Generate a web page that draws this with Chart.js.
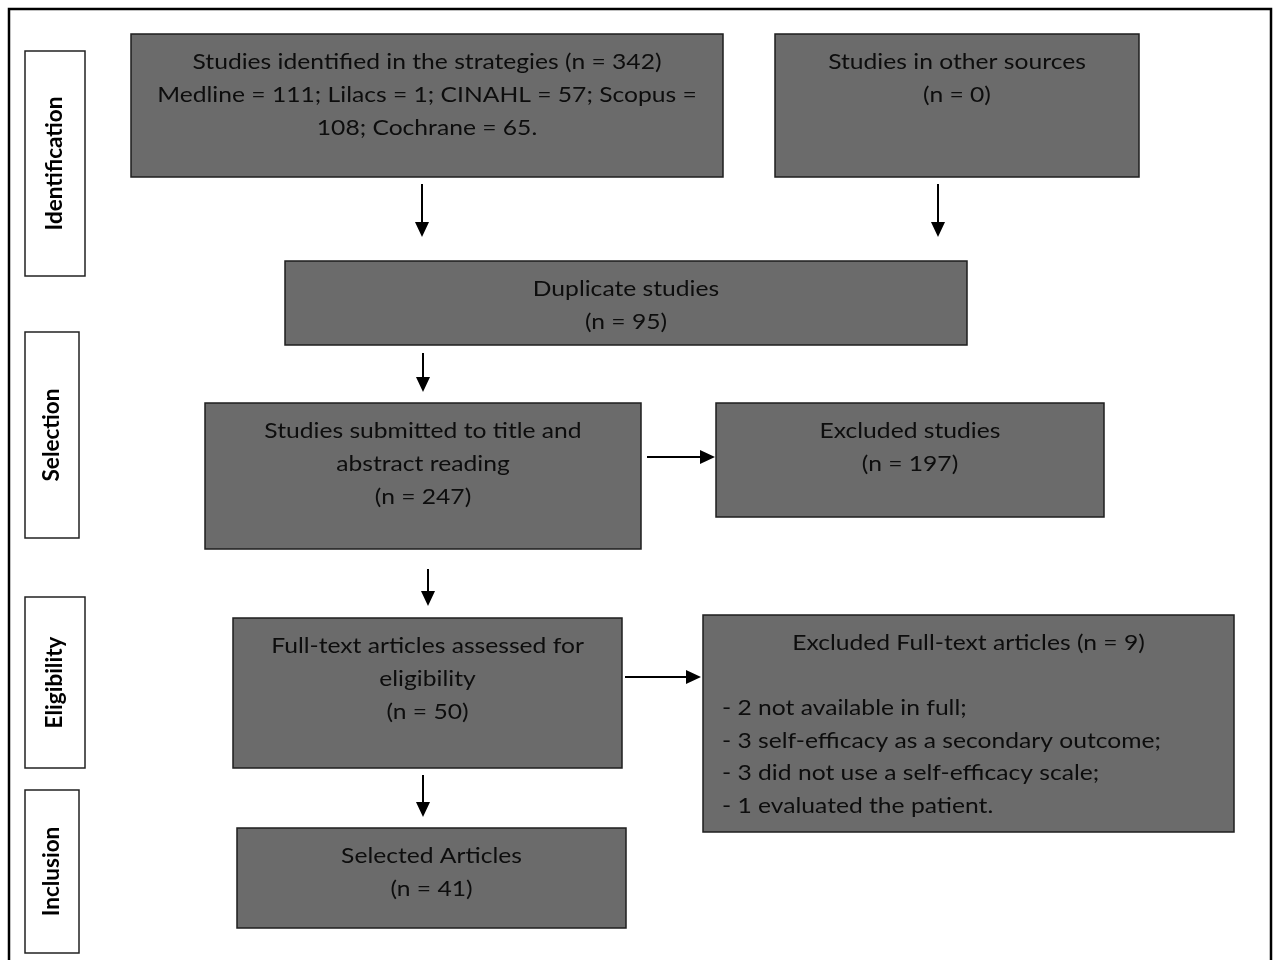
<!DOCTYPE html>
<html>
<head>
<meta charset="utf-8">
<script src="https://cdn.jsdelivr.net/npm/chart.js@4.4.1/dist/chart.umd.min.js"></script>
<style>
    html, body { margin: 0; padding: 0; background: #fff; }
    #wrap { width: 1276px; height: 960px; }
</style>
</head>
<body>
<div id="wrap"><canvas id="flow" width="1276" height="960"></canvas></div>
<script>
// Flow data
const stages = ['Identification', 'Selection', 'Eligibility', 'Inclusion'];
const sources = ['Medline', 'Lilacs', 'CINAHL', 'Scopus', 'Cochrane'];
const sourceCounts = [111, 1, 57, 108, 65];
const boxTitles = [
    'Studies identified in the strategies',
    'Studies in other sources',
    'Duplicate studies',
    'Studies submitted to title and abstract reading',
    'Excluded studies',
    'Full-text articles assessed for eligibility',
    'Excluded Full-text articles',
    'Selected Articles'
];
const boxCounts = [342, 0, 95, 247, 197, 50, 9, 41];
const exclusionCounts = [2, 3, 3, 1];
const exclusionReasons = [
    'not available in full;',
    'self-efficacy as a secondary outcome;',
    'did not use a self-efficacy scale;',
    'evaluated the patient.'
];

// Layout (diagram units = pixels of a 1276 x 960 page)
const stageBoxes = [
    [25, 51, 85, 276],
    [25, 332, 79, 538],
    [25, 597, 85, 768],
    [25, 790, 79, 953]
];
const boxRects = [
    [131, 34, 723, 177],
    [775, 34, 1139, 177],
    [285, 261, 967, 345],
    [205, 403, 641, 549],
    [716, 403, 1104, 517],
    [233, 618, 622, 768],
    [703, 615, 1234, 832],
    [237, 828, 626, 928]
];
const arrows = [
    [422, 184, 422, 237],
    [938, 184, 938, 237],
    [423, 353, 423, 392],
    [647, 457, 715, 457],
    [428, 569, 428, 606],
    [625, 677, 701, 677],
    [423, 775, 423, 817]
];

function boxLines(i) {
    const n = `(n = ${boxCounts[i]})`;
    if (i === 0) {
        const parts = sources.map((s, k) => `${s} = ${sourceCounts[k]}`);
        return [
            `${boxTitles[0]} ${n}`,
            `${parts.slice(0, 3).join('; ')}; ${sources[3]} =`,
            `${sourceCounts[3]}; ${parts[4]}.`
        ];
    }
    if (i === 3) return ['Studies submitted to title and', 'abstract reading', n];
    if (i === 5) return ['Full-text articles assessed for', 'eligibility', n];
    if (i === 6) return [`${boxTitles[6]} ${n}`];
    return [boxTitles[i], n];
}

const FONT = 'Lato, "Open Sans", sans-serif';
const STRETCH = 1.12;  // reference face is wider than Lato

// draw text stretched horizontally around its anchor
function wideText(ctx, text, x, y, align) {
    ctx.save();
    ctx.translate(x, y);
    ctx.scale(STRETCH, 1);
    ctx.textAlign = align;
    ctx.fillText(text, 0, 0);
    ctx.restore();
}

const flowPlugin = {
    id: 'flow',
    afterDraw(chart) {
        const ctx = chart.ctx;
        const sx = chart.scales.x, sy = chart.scales.y;
        const px = v => sx.getPixelForValue(v);
        const py = v => sy.getPixelForValue(v);

        ctx.save();

        // outer frame
        ctx.strokeStyle = '#000';
        ctx.lineWidth = 2.5;
        ctx.strokeRect(px(9), py(9), px(1271) - px(9), py(975) - py(9));

        // stage labels
        stageBoxes.forEach((r, i) => {
            const x0 = px(r[0]), y0 = py(r[1]), x1 = px(r[2]), y1 = py(r[3]);
            ctx.fillStyle = '#fff';
            ctx.fillRect(x0, y0, x1 - x0, y1 - y0);
            ctx.strokeStyle = '#222';
            ctx.lineWidth = 1.5;
            ctx.strokeRect(x0, y0, x1 - x0, y1 - y0);
            ctx.save();
            ctx.translate((x0 + x1) / 2, (y0 + y1) / 2);
            ctx.rotate(-Math.PI / 2);
            ctx.fillStyle = '#000';
            ctx.font = `bold 22.5px ${FONT}`;
            ctx.textAlign = 'center';
            ctx.textBaseline = 'middle';
            ctx.fillText(stages[i], 0, 0);
            ctx.restore();
        });

        // process boxes
        boxRects.forEach((r, i) => {
            const x0 = px(r[0]), y0 = py(r[1]), x1 = px(r[2]), y1 = py(r[3]);
            ctx.fillStyle = '#6b6b6b';
            ctx.fillRect(x0, y0, x1 - x0, y1 - y0);
            ctx.strokeStyle = '#1e1e1e';
            ctx.lineWidth = 1.5;
            ctx.strokeRect(x0, y0, x1 - x0, y1 - y0);

            ctx.fillStyle = '#0d0d0d';
            ctx.font = `22px ${FONT}`;
            ctx.textBaseline = 'middle';
            const cx = (x0 + x1) / 2;
            boxLines(i).forEach((line, k) => {
                wideText(ctx, line, cx, y0 + 28 + k * 33, 'center');
            });

            // bullet list of exclusion reasons
            if (i === 6) {
                exclusionReasons.forEach((reason, k) => {
                    wideText(ctx, `- ${exclusionCounts[k]} ${reason}`, x0 + 19, y0 + 93 + k * 32.5, 'left');
                });
            }
        });

        // arrows
        arrows.forEach(a => {
            const x0 = px(a[0]), y0 = py(a[1]), x1 = px(a[2]), y1 = py(a[3]);
            const ang = Math.atan2(y1 - y0, x1 - x0);
            const head = 15, half = 7;
            const bx = x1 - head * Math.cos(ang), by = y1 - head * Math.sin(ang);
            ctx.strokeStyle = '#000';
            ctx.lineWidth = 2;
            ctx.beginPath();
            ctx.moveTo(x0, y0);
            ctx.lineTo(bx, by);
            ctx.stroke();
            ctx.fillStyle = '#000';
            ctx.beginPath();
            ctx.moveTo(x1, y1);
            ctx.lineTo(bx + half * Math.sin(ang), by - half * Math.cos(ang));
            ctx.lineTo(bx - half * Math.sin(ang), by + half * Math.cos(ang));
            ctx.closePath();
            ctx.fill();
        });

        ctx.restore();
    }
};

new Chart(document.getElementById('flow'), {
    type: 'scatter',
    data: {
        datasets: [{
            data: [],
            pointRadius: 0
        }]
    },
    options: {
        responsive: false,
        animation: false,
        layout: { padding: 0 },
        plugins: {
            legend: { display: false },
            tooltip: { enabled: false }
        },
        scales: {
            x: { type: 'linear', min: 0, max: 1276, display: false },
            y: { type: 'linear', min: 0, max: 960, reverse: true, display: false }
        }
    },
    plugins: [flowPlugin]
});
</script>
</body>
</html>
